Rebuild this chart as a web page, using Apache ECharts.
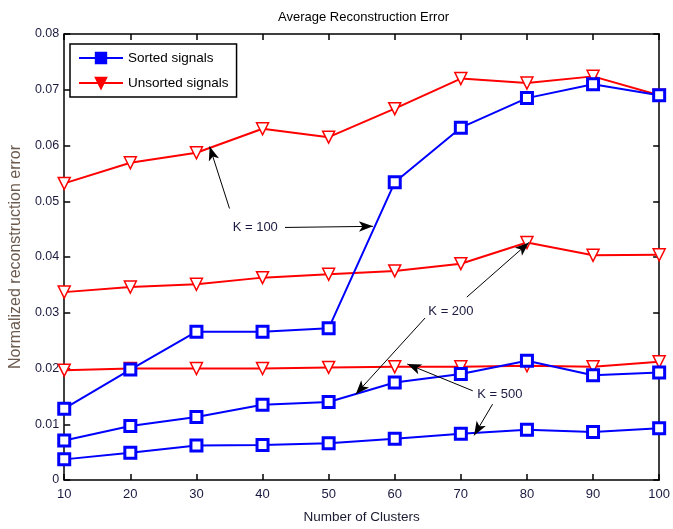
<!DOCTYPE html>
<html>
<head>
<meta charset="utf-8">
<script src="https://cdn.jsdelivr.net/npm/echarts@6/dist/echarts.min.js"></script>
<style>
  html, body { margin: 0; padding: 0; background: #fff; }
  #chart { width: 673px; height: 529px; }
</style>
</head>
<body>
<div id="chart"></div>
<script>
// number of clusters on the x axis
var clusters = [10, 20, 30, 40, 50, 60, 70, 80, 90, 100];
var sortedK100 = [0.0128, 0.0198, 0.0266, 0.0266, 0.0272, 0.0534, 0.0632, 0.0685, 0.0710, 0.0690];
var unsortedK100 = [0.0532, 0.0569, 0.0587, 0.0630, 0.0615, 0.0666, 0.0720, 0.0712, 0.0724, 0.0690];
var sortedK200 = [0.0071, 0.0097, 0.0113, 0.0135, 0.0140, 0.0175, 0.0190, 0.0214, 0.0188, 0.0193];
var unsortedK200 = [0.0337, 0.0346, 0.0351, 0.0363, 0.0369, 0.0375, 0.0388, 0.0426, 0.0403, 0.0404];
var sortedK500 = [0.0037, 0.0049, 0.0062, 0.0063, 0.0066, 0.0074, 0.0083, 0.0090, 0.0086, 0.0093];
var unsortedK500 = [0.0197, 0.0200, 0.0200, 0.0200, 0.0202, 0.0203, 0.0203, 0.0205, 0.0203, 0.0212];

// annotation labels and arrows, in data units (x, y)
var notes = [
  { text: "K = 100", at: [38.9, 0.0453] },
  { text: "K = 200", at: [68.5, 0.0303] },
  { text: "K = 500", at: [75.9, 0.0154] }
];
var arrows = [
  [[35.0, 0.0487], [32.0, 0.0598]],
  [[43.4, 0.0453], [56.7, 0.0455]],
  [[70.9, 0.0328], [80.3, 0.0426]],
  [[64.7, 0.0292], [54.1, 0.0154]],
  [[71.8, 0.0160], [61.9, 0.0208]],
  [[74.8, 0.0136], [72.0, 0.0080]]
];

var font = "Liberation Sans";
var blue = "#0000ff";
var red = "#ff0000";
var labelColor = "#1a1a40";

function pairs(ys) {
  return ys.map(function (v, i) { return [clusters[i], v]; });
}

function sortedSeries(name, ys) {
  return {
    name: name,
    type: "line",
    data: pairs(ys),
    symbol: "rect",
    symbolSize: 11,
    lineStyle: { color: blue, width: 2 },
    itemStyle: { color: "#fff", borderColor: blue, borderWidth: 3 },
    color: blue,
    z: 3
  };
}

function unsortedSeries(name, ys) {
  return {
    name: name,
    type: "line",
    data: pairs(ys),
    symbol: "triangle",
    symbolRotate: 180,
    symbolSize: 12,
    lineStyle: { color: red, width: 2 },
    itemStyle: { color: "#fff", borderColor: red, borderWidth: 1.5 },
    color: red,
    z: 2
  };
}

var series = [
  unsortedSeries("Unsorted signals", unsortedK100),
  unsortedSeries("Unsorted signals", unsortedK200),
  unsortedSeries("Unsorted signals", unsortedK500),
  sortedSeries("Sorted signals", sortedK100),
  sortedSeries("Sorted signals", sortedK200),
  sortedSeries("Sorted signals", sortedK500)
];

// arrows and labels hang on the first series
series[0].markLine = {
  silent: true,
  animation: false,
  symbol: ["none", "arrow"],
  symbolSize: [8, 14],
  lineStyle: { color: "#000", width: 1, type: "solid" },
  label: { show: false },
  data: arrows.map(function (a) {
    return [{ coord: a[0] }, { coord: a[1] }];
  })
};
series[0].markPoint = {
  silent: true,
  animation: false,
  symbol: "rect",
  symbolSize: [52, 14],
  itemStyle: { color: "#fff" },
  label: {
    show: true,
    position: "inside",
    color: labelColor,
    fontFamily: font,
    fontSize: 13,
    formatter: function (p) { return p.name; }
  },
  data: notes.map(function (n) {
    return { name: n.text, coord: n.at };
  })
};

var inTick = { show: true, inside: true, length: 6, lineStyle: { color: "#000", width: 1.5 } };
var axisLine = { show: true, onZero: false, lineStyle: { color: "#000", width: 1.5 } };

var option = {
  backgroundColor: "#fff",
  animation: false,
  title: {
    text: "Average Reconstruction Error",
    left: 273,
    top: 6,
    textStyle: { fontFamily: font, fontSize: 13, fontWeight: "normal", color: "#000" }
  },
  legend: {
    orient: "vertical",
    left: 70,
    top: 44,
    data: [
      { name: "Sorted signals", itemStyle: { color: blue, borderColor: blue } },
      { name: "Unsorted signals", itemStyle: { color: red, borderColor: red } }
    ],
    itemWidth: 44,
    itemHeight: 13,
    itemGap: 11,
    padding: [7, 8, 7, 8],
    borderColor: "#000",
    borderWidth: 1.5,
    backgroundColor: "#fff",
    textStyle: { fontFamily: font, fontSize: 13.5, color: "#000" }
  },
  grid: { left: 64, right: 12, top: 34, bottom: 48 },
  xAxis: [
    {
      type: "value",
      min: 10,
      max: 100,
      interval: 10,
      name: "Number of Clusters",
      nameLocation: "middle",
      nameGap: 30,
      nameTextStyle: { fontFamily: font, fontSize: 13.5, color: "#1a1a30" },
      axisLine: axisLine,
      axisTick: inTick,
      axisLabel: { fontFamily: font, fontSize: 13, color: labelColor, margin: 8 },
      splitLine: { show: false }
    },
    {
      type: "value",
      position: "top",
      min: 10,
      max: 100,
      interval: 10,
      axisLine: axisLine,
      axisTick: inTick,
      axisLabel: { show: false },
      splitLine: { show: false }
    }
  ],
  yAxis: [
    {
      type: "value",
      min: 0,
      max: 0.08,
      interval: 0.01,
      name: "Normalized reconstruction error",
      nameLocation: "middle",
      nameGap: 37,
      nameTextStyle: { fontFamily: font, fontSize: 16, color: "#6b5a4e" },
      axisLine: axisLine,
      axisTick: inTick,
      axisLabel: {
        fontFamily: font,
        fontSize: 12.5,
        color: labelColor,
        margin: 5,
        formatter: function (v) {
          return v === 0 ? "0" : v.toFixed(2);
        }
      },
      splitLine: { show: false }
    },
    {
      type: "value",
      position: "right",
      min: 0,
      max: 0.08,
      interval: 0.01,
      axisLine: axisLine,
      axisTick: inTick,
      axisLabel: { show: false },
      splitLine: { show: false }
    }
  ],
  series: series
};

var chart = echarts.init(document.getElementById("chart"));
chart.setOption(option);
</script>
</body>
</html>
